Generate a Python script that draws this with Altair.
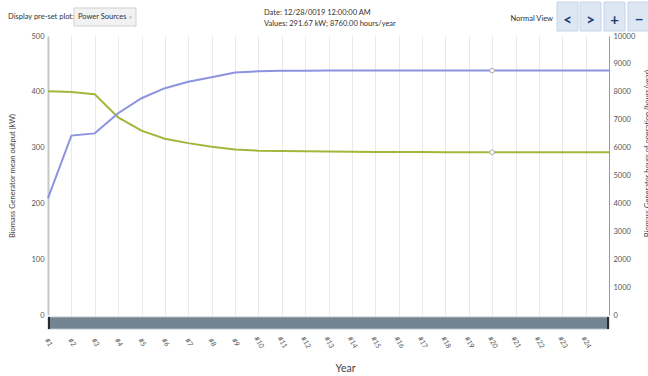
import altair as alt
import pandas as pd

# Project years (#1 .. #25) and the two biomass generator series
years = list(range(1, 26))
mean_output_kw = [401.0, 399.5, 395.5, 354.0, 330.5, 316.0, 308.0, 301.5, 296.5, 294.5,
                  293.8, 293.3, 292.8, 292.5, 292.2, 292.0, 291.9, 291.8, 291.7, 291.67,
                  291.67, 291.67, 291.67, 291.67, 291.67]
hours_per_year = [4190, 6430, 6510, 7230, 7770, 8130, 8360, 8520, 8690, 8735,
                  8752, 8757, 8760, 8760, 8760, 8760, 8760, 8760, 8760, 8760,
                  8760, 8760, 8760, 8760, 8760]
selected_year = 20
tick_years = list(range(1, 25))

df = pd.DataFrame({"year": years, "kw": mean_output_kw, "hours": hours_per_year})
sel = df[df["year"] == selected_year]

FONT = "Lato"
W, H = 561, 279
BLUE = "#8d93e0"
GREEN = "#a3b63c"

x_scale = alt.Scale(domain=[1, 25], nice=False, zero=False)
x_axis = alt.Axis(
    values=tick_years, labelExpr="'#' + datum.value", grid=True,
    gridColor="#e9e9e9", gridWidth=1, domain=False, ticks=False,
    labelOverlap=False, labelFlush=False,
    labelAngle=60, labelAlign="center", labelBaseline="middle",
    labelPadding=27, labelFontSize=7, labelColor="#555", labelFont=FONT,
    title="Year", titleX=297, titleY=53, titleFontSize=10.5,
    titleFontWeight="normal", titleColor="#444", titleFont=FONT,
    titleBaseline="middle",
)
x_enc = alt.X("year:Q", scale=x_scale, axis=x_axis)

kw_scale = alt.Scale(domain=[0, 500], nice=False)
hr_scale = alt.Scale(domain=[0, 10000], nice=False)

left_axis = alt.Axis(
    orient="left", values=[0, 100, 200, 300, 400, 500], grid=False, ticks=False,
    labelOverlap=False, format="d",
    domainColor="#c8c8c8", domainWidth=2, labelPadding=4, labelFontSize=7.5,
    labelColor="#555", labelFont=FONT,
    title="Biomass Generator mean output (kW)", titleX=-36, titleY=139.5,
    titleAngle=-90, titleAlign="center", titleBaseline="middle",
    titleFontSize=7.5, titleFontWeight="normal", titleColor="#444", titleFont=FONT,
)
right_axis = alt.Axis(
    orient="right", values=list(range(0, 10001, 1000)), grid=False, ticks=False,
    labelOverlap=False, format="d",
    domainColor="#999", domainWidth=1, labelPadding=4, labelFontSize=7.5,
    labelColor="#555", labelFont=FONT,
    title="Biomass Generator hours of operation (hours/year)", titleX=38, titleY=117,
    titleAngle=-90, titleAlign="center", titleBaseline="middle",
    titleFontSize=7.5, titleFontWeight="normal", titleColor="#444", titleFont=FONT,
)

kw_y = alt.Y("kw:Q", scale=kw_scale, axis=left_axis)
hr_y = alt.Y("hours:Q", scale=hr_scale, axis=right_axis)

dot_style = dict(shape="circle", size=22, filled=True, fill="white",
                 stroke="#aaa", strokeWidth=1, opacity=1)

kw_line = alt.Chart(df).mark_line(color=GREEN, strokeWidth=2).encode(x=x_enc, y=kw_y)
kw_dot = alt.Chart(sel).mark_point(**dot_style).encode(x=x_enc, y=kw_y)
left = alt.layer(kw_line, kw_dot)

hr_line = alt.Chart(df).mark_line(color=BLUE, strokeWidth=2).encode(x=x_enc, y=hr_y)
hr_dot = alt.Chart(sel).mark_point(**dot_style).encode(x=x_enc, y=hr_y)
right = alt.layer(hr_line, hr_dot)

one = alt.Data(values=[{}])

# Range bar under the plot
bar = alt.Chart(one).mark_rect(color="#73838f", stroke="#b9c3cb", strokeWidth=1).encode(
    x=alt.value(0), x2=alt.value(W), y=alt.value(281), y2=alt.value(293))
cap_l = alt.Chart(one).mark_rect(color="#2a2a2a").encode(
    x=alt.value(0), x2=alt.value(2), y=alt.value(281), y2=alt.value(293))
cap_r = alt.Chart(one).mark_rect(color="#2a2a2a").encode(
    x=alt.value(W - 2), x2=alt.value(W), y=alt.value(281), y2=alt.value(293))

# Header controls
def label(text, x, y, size=7.5, align="left", color="#333", weight="normal"):
    return alt.Chart(one).mark_text(
        text=text, align=align, baseline="middle", fontSize=size, font=FONT,
        color=color, fontWeight=weight
    ).encode(x=alt.value(x), y=alt.value(y))

def box(x0, x1, y0, y1, fill, stroke):
    return alt.Chart(one).mark_rect(fill=fill, stroke=stroke, strokeWidth=1).encode(
        x=alt.value(x0), x2=alt.value(x1), y=alt.value(y0), y2=alt.value(y1))

header = [
    label("Display pre-set plot:", -40, -19),
    box(26, 88, -28, -10, "#f2f2f2", "#cfcfcf"),
    label("Power Sources", 30, -19),
    label("v", 81, -19, size=5.5, color="#999"),
    label("Date:  12/28/0019 12:00:00 AM", 216, -23),
    label("Values:  291.67 kW; 8760.00 hours/year", 216, -12),
    label("Normal View", 505, -17, align="right"),
]
buttons = []
for (x0, x1), glyph in zip([(509, 530), (532, 553), (556, 577), (580, 602)], ["<", ">", "+", "−"]):
    buttons.append(box(x0, x1, -34, -5, "#dde7f3", "#c6d4e6"))
    buttons.append(label(glyph, (x0 + x1) / 2, -16, size=15, align="center",
                         color="#1d3d74", weight="bold"))

chart = alt.layer(
    left, right, bar, cap_l, cap_r, *header, *buttons
).resolve_scale(y="independent").properties(
    width=W, height=H,
    padding={"left": 48, "top": 36, "right": 39, "bottom": 61},
    autosize=alt.AutoSizeParams(type="none"),
    background="white",
).configure_view(stroke=None)

chart.save("out.html", embed_options={"renderer": "svg", "actions": False})
